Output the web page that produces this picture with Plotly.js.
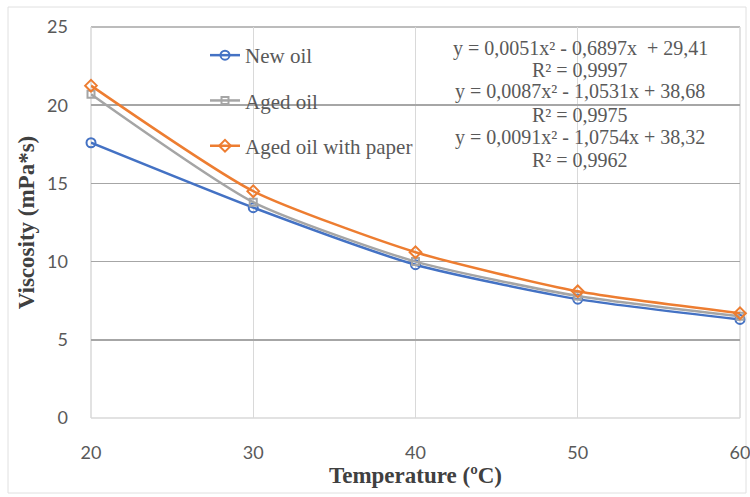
<!DOCTYPE html>
<html>
<head>
<meta charset="utf-8">
<script src="https://cdn.plot.ly/plotly-3.0.1.min.js"></script>
<style>html,body{margin:0;padding:0;background:#fff;}#chart{width:750px;height:497px;}</style>
</head>
<body>
<div id="chart"></div>
<script>
const temperature = [20, 30, 40, 50, 60];
const newOil = [17.6, 13.45, 9.8, 7.6, 6.3];
const agedOil = [20.7, 13.8, 10.0, 7.8, 6.5];
const agedOilPaper = [21.25, 14.5, 10.6, 8.1, 6.7];
const seriesNames = ["New oil", "Aged oil", "Aged oil with paper"];
const yTicks = [0, 5, 10, 15, 20, 25];
const equations = [
  "y = 0,0051x² - 0,6897x  + 29,41",
  "R² = 0,9997",
  "y = 0,0087x² - 1,0531x + 38,68",
  "R² = 0,9975",
  "y = 0,0091x² - 1,0754x + 38,32",
  "R² = 0,9962"
];

const colors = ["#4472C4", "#A5A5A5", "#ED7D31"];
const symbols = ["circle-open", "square-open", "diamond-open"];
const allSeries = [newOil, agedOil, agedOilPaper];

const traces = allSeries.map((ys, i) => ({
  x: temperature,
  y: ys,
  name: seriesNames[i],
  legendgroup: "g" + i,
  type: "scatter",
  mode: "lines+markers",
  cliponaxis: false,
  line: {color: colors[i], width: 2.5, shape: "spline", smoothing: 0.6},
  marker: {symbol: symbols[i], size: i === 1 ? 7 : 9, color: colors[i], line: {width: 2, color: colors[i]}}
}));

const eqY = [48, 70, 92, 115, 137, 160];
const annotations = equations.map((t, i) => ({
  text: t,
  xref: "paper", yref: "paper",
  x: (580 - 91) / 649,
  y: 1 - (eqY[i] - 27) / 391,
  xanchor: "center", yanchor: "middle",
  showarrow: false,
  font: {family: "Liberation Serif", size: 20, color: "#595959"}
}));

const edgeLine = (x0, x1, y0, y1, color) => ({
  type: "line", xref: "paper", yref: "paper", x0, x1, y0, y1,
  line: {color, width: 1.5}, layer: "below"
});

const layout = {
  width: 750, height: 497,
  margin: {l: 91, r: 10, t: 27, b: 79},
  paper_bgcolor: "#fff",
  plot_bgcolor: "#fff",
  showlegend: true,
  legend: {
    x: (205 - 91) / 649, y: 1 - (35 - 27) / 391,
    xanchor: "left", yanchor: "top",
    bgcolor: "rgba(0,0,0,0)",
    font: {family: "Liberation Serif", size: 21, color: "#595959"},
    traceorder: "grouped",
    tracegroupgap: 15,
    itemwidth: 30
  },
  xaxis: {
    range: [20, 60],
    tickvals: temperature,
    showgrid: true, gridcolor: "#d9d9d9", gridwidth: 1,
    zeroline: false, showline: false,
    ticks: "",
    ticklabeloverflow: "allow",
    ticklabelstandoff: 22,
    tickfont: {family: "Lato", size: 18, color: "#595959"},
    title: {text: "Temperature (ºC)", font: {family: "Liberation Serif", size: 23, color: "#404040", weight: "bold"}, standoff: 0}
  },
  yaxis: {
    range: [0, 25],
    tickvals: yTicks,
    showgrid: true, gridcolor: "#a6a6a6", gridwidth: 1.5,
    zeroline: false, showline: false,
    ticks: "",
    ticklabelstandoff: 22,
    tickfont: {family: "Lato", size: 18, color: "#595959"},
    title: {text: "Viscosity (mPa*s)", font: {family: "Liberation Serif", size: 23, color: "#404040", weight: "bold"}, standoff: 6}
  },
  annotations: annotations,
  shapes: [
    edgeLine(0, 1, 0, 0, "#d9d9d9"),
    edgeLine(0, 1, 1, 1, "#a6a6a6"),
    edgeLine(0, 0, 0, 1, "#d9d9d9"),
    edgeLine(1, 1, 0, 1, "#d9d9d9"),
    {type: "rect", xref: "paper", yref: "paper",
     x0: (8 - 91) / 649, x1: (746 - 91) / 649, y0: 1 - (493 - 27) / 391, y1: 1 - (7 - 27) / 391,
     line: {color: "#e0e0e0", width: 1}, fillcolor: "rgba(0,0,0,0)", layer: "below"}
  ]
};

Plotly.newPlot("chart", traces, layout, {displayModeBar: false, staticPlot: true});
</script>
</body>
</html>
